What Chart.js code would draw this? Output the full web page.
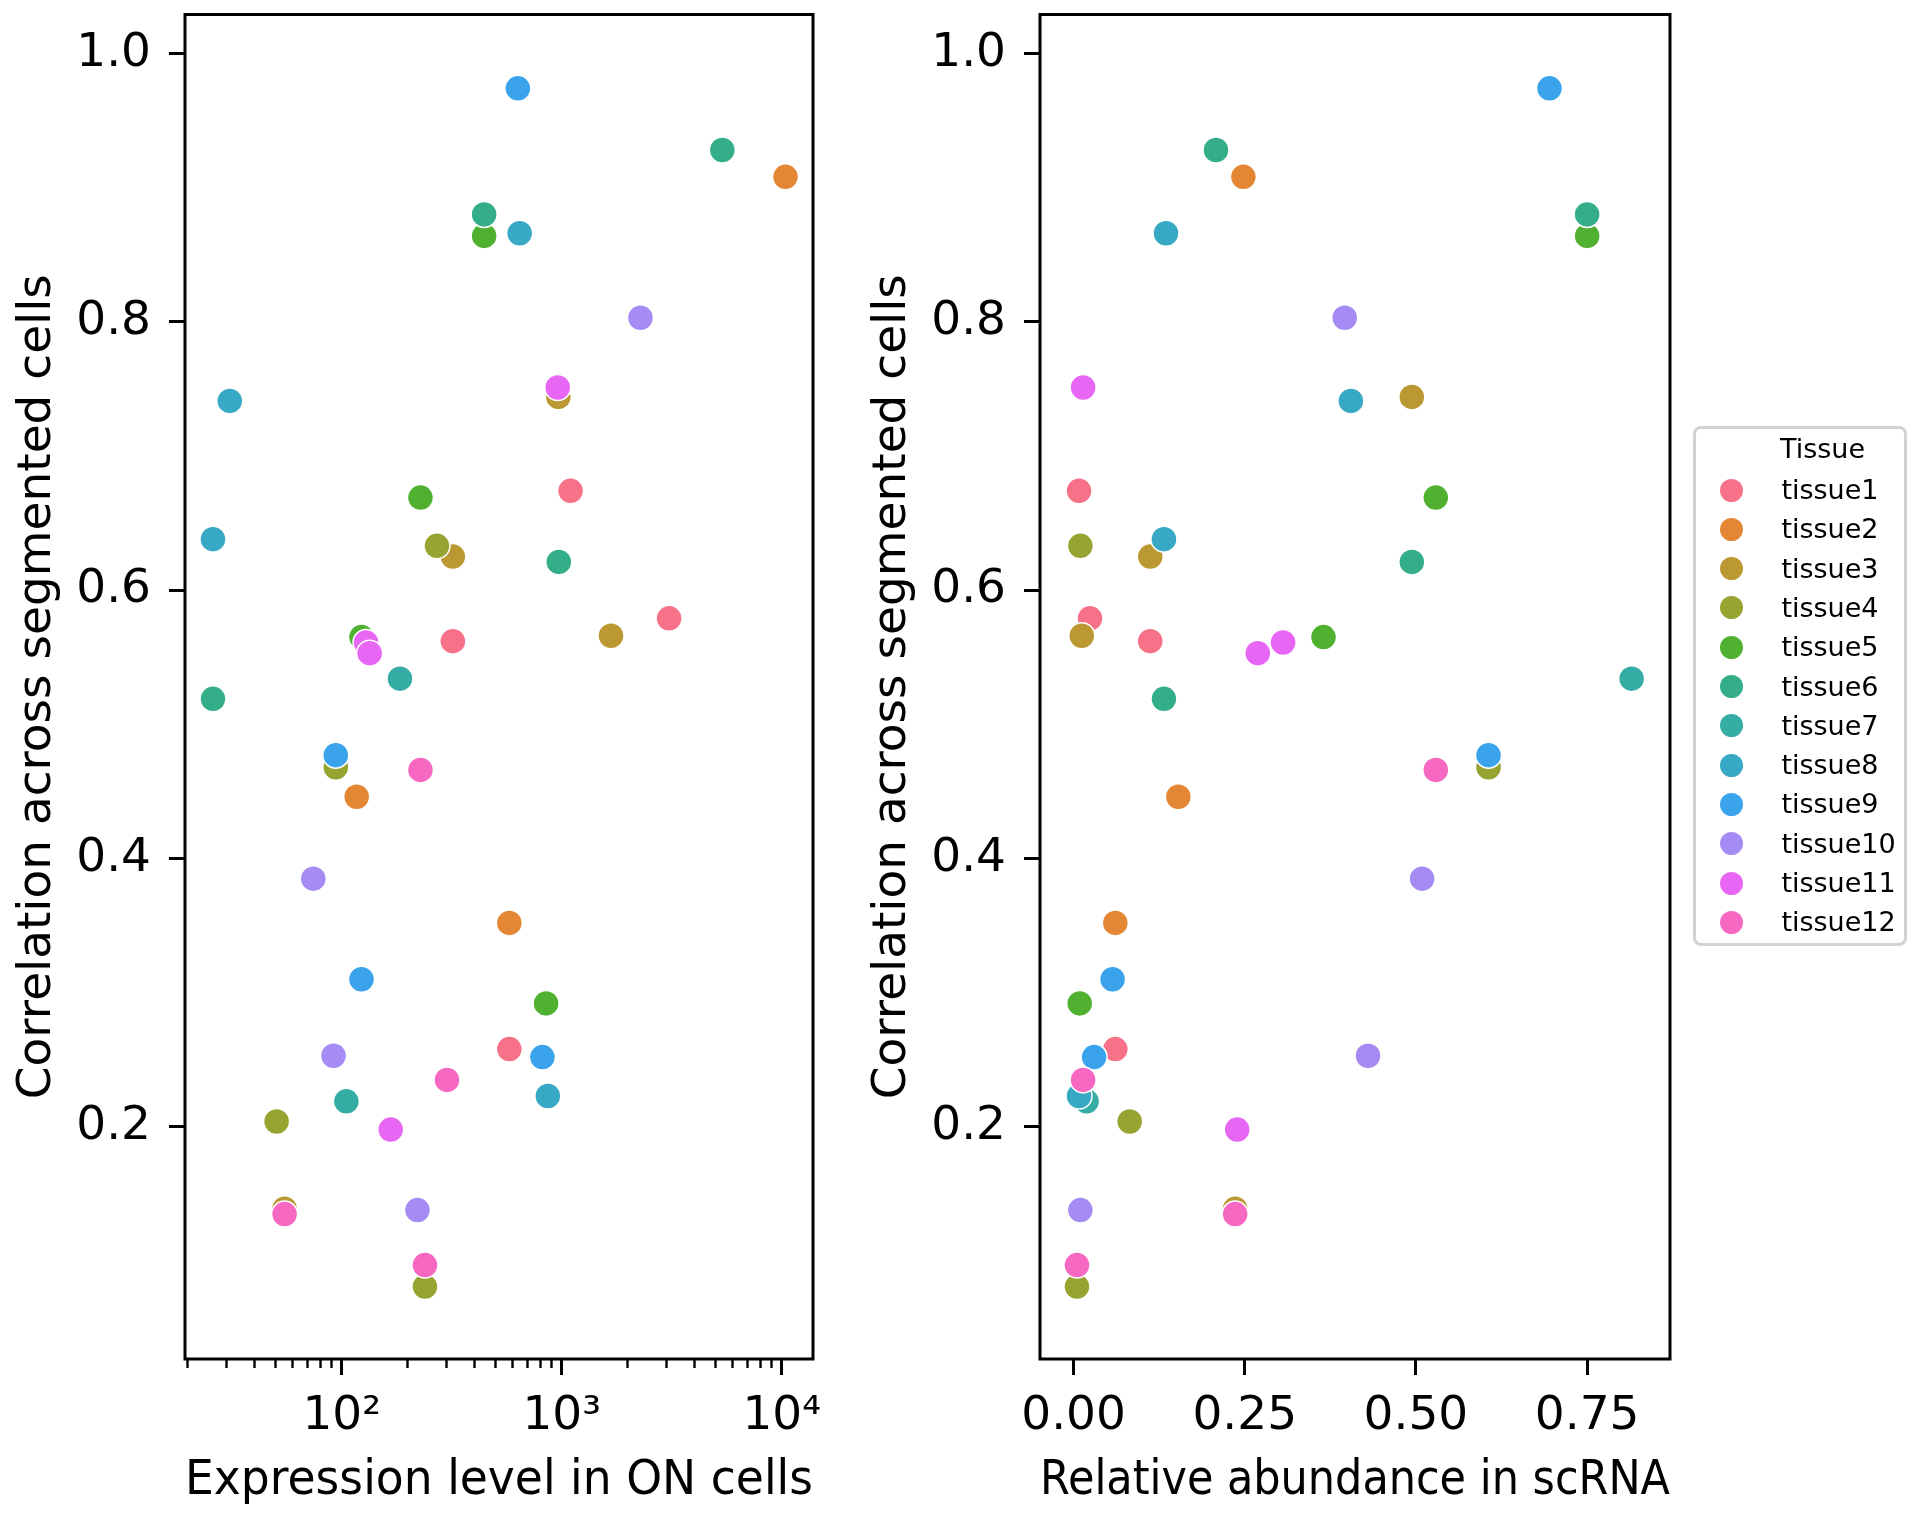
<!DOCTYPE html>
<html>
<head>
<meta charset="utf-8">
<script src="https://cdn.jsdelivr.net/npm/chart.js@4.4.0/dist/chart.umd.min.js"></script>
<style>
  body { margin: 0; background: #fff; width: 1920px; height: 1521px; position: relative; overflow: hidden; font-family: "DejaVu Sans", sans-serif; }
  canvas { position: absolute; top: 0; }
  #left { left: 0; }
  #right { left: 855px; }
  #legend { position: absolute; left: 1693px; top: 426px; width: 208px; height: 514px; border: 3px solid #d2d2d2; border-radius: 8px; background: #fff; }
  #legend div { position: absolute; white-space: nowrap; color: #000; font-size: 27px; line-height: 40px; height: 40px; }
  #legend span.dot { position: absolute; width: 23px; height: 23px; border-radius: 50%; }
</style>
</head>
<body>
<canvas id="left" width="880" height="1521"></canvas>
<canvas id="right" width="880" height="1521"></canvas>
<div id="legend"></div>
<script>
const tissues = ['tissue1', 'tissue2', 'tissue3', 'tissue4', 'tissue5', 'tissue6',
                 'tissue7', 'tissue8', 'tissue9', 'tissue10', 'tissue11', 'tissue12'];
const colors = ['#f77189', '#e48735', '#bb9832', '#97a431', '#50b131', '#34ae88',
                '#36ada4', '#38a9c5', '#3ba3ec', '#a48cf4', '#e866f4', '#f668c2'];

// correlation across segmented cells, one list per tissue
const corr = [
  [0.674, 0.579, 0.562, 0.258],
  [0.908, 0.446, 0.352],
  [0.744, 0.625, 0.566, 0.139],
  [0.633, 0.468, 0.204, 0.081],
  [0.864, 0.669, 0.565, 0.292],
  [0.928, 0.880, 0.621, 0.519],
  [0.534, 0.219],
  [0.866, 0.741, 0.638, 0.223],
  [0.974, 0.477, 0.310, 0.252],
  [0.803, 0.385, 0.253, 0.138],
  [0.751, 0.561, 0.553, 0.198],
  [0.466, 0.235, 0.135, 0.097]
];
// expression level in ON cells (same order as corr)
const expr = [
  [1097, 3076, 320, 578],
  [10400, 117, 578],
  [965, 320, 1675, 55],
  [271, 94, 50.6, 239],
  [444, 228, 123, 849],
  [5370, 444, 970, 26],
  [184, 105],
  [644, 31, 26, 865],
  [632, 94, 123, 817],
  [2280, 74.3, 91.8, 221],
  [959, 129, 134, 167],
  [228, 301, 55, 239]
];
// relative abundance in scRNA (same order as corr)
const abund = [
  [0.008, 0.024, 0.112, 0.061],
  [0.248, 0.153, 0.061],
  [0.494, 0.112, 0.012, 0.236],
  [0.010, 0.606, 0.082, 0.005],
  [0.750, 0.529, 0.365, 0.009],
  [0.208, 0.750, 0.494, 0.132],
  [0.815, 0.019],
  [0.135, 0.405, 0.132, 0.008],
  [0.695, 0.606, 0.057, 0.030],
  [0.396, 0.509, 0.430, 0.010],
  [0.014, 0.306, 0.269, 0.239],
  [0.529, 0.014, 0.236, 0.005]
];

const yTicks = [0.2, 0.4, 0.6, 0.8, 1.0];
const logTicks = [20, 30, 40, 50, 60, 70, 80, 90, 100,
                  200, 300, 400, 500, 600, 700, 800, 900, 1000,
                  2000, 3000, 4000, 5000, 6000, 7000, 8000, 9000, 10000];
const logLabels = { 100: '10²', 1000: '10³', 10000: '10⁴' };
const abundTicks = [0, 0.25, 0.5, 0.75];

const FONT = "'DejaVu Sans'";
Chart.defaults.font.family = FONT;
Chart.defaults.color = '#000';

const frame = {
  id: 'frame',
  afterDatasetsDraw(chart) {
    const a = chart.chartArea;
    const c = chart.ctx;
    c.save();
    c.lineWidth = 3;
    c.strokeStyle = '#000';
    c.strokeRect(a.left, a.top, a.right - a.left, a.bottom - a.top);
    c.restore();
  }
};

function makeDatasets(xs) {
  return tissues.map((name, i) => ({
    label: name,
    data: corr[i].map((c, j) => ({ x: xs[i][j], y: c })),
    backgroundColor: colors[i],
    borderColor: '#fff',
    borderWidth: 1.5,
    pointRadius: 13,
    order: tissues.length - i
  }));
}

function yAxis() {
  return {
    type: 'linear',
    min: 0.027,
    max: 1.029,
    afterBuildTicks: ax => { ax.ticks = yTicks.map(v => ({ value: v })); },
    afterFit: ax => { ax.width = 185; ax.paddingTop = 0; ax.paddingBottom = 0; },
    ticks: { callback: v => v.toFixed(1), font: { size: 47 }, padding: 18 },
    grid: { drawOnChartArea: false, tickLength: 16, tickWidth: 3, tickColor: '#000' },
    border: { display: false },
    title: { display: true, text: 'Correlation across segmented cells', font: { size: 47 }, padding: { top: 10, bottom: 0 } }
  };
}

function makeChart(id, xs, xAxis, padRight) {
  return new Chart(document.getElementById(id), {
    type: 'scatter',
    data: { datasets: makeDatasets(xs) },
    options: {
      responsive: false,
      animation: false,
      devicePixelRatio: 1,
      events: [],
      layout: { padding: { left: 0, top: 12, right: padRight, bottom: 0 } },
      plugins: { legend: { display: false }, tooltip: { enabled: false } },
      scales: { x: xAxis, y: yAxis() }
    },
    plugins: [frame]
  });
}

function fitX(ax) {
  ax.height = 162;
  ax.paddingLeft = 0;
  ax.paddingRight = 0;
}

makeChart('left', expr, {
  type: 'logarithmic',
  min: 19.4,
  max: 13870,
  afterBuildTicks: ax => { ax.ticks = logTicks.map(v => ({ value: v })); },
  afterFit: fitX,
  ticks: { autoSkip: false, maxRotation: 0, minRotation: 0, callback: v => logLabels[v] || '', font: { size: 47 }, padding: 14 },
  grid: {
    drawOnChartArea: false, tickLength: 16, tickColor: '#000',
    tickWidth: ctx => (logLabels[ctx.tick && ctx.tick.value] ? 3 : 2.4),
    tickBorderDash: ctx => (logLabels[ctx.tick && ctx.tick.value] ? [] : [9, 100])
  },
  border: { display: false },
  title: { display: true, text: 'Expression level in ON cells', font: { size: 47.5 }, padding: { top: 0, bottom: 11 } }
}, 67);

makeChart('right', abund, {
  type: 'linear',
  min: -0.049,
  max: 0.871,
  afterBuildTicks: ax => { ax.ticks = abundTicks.map(v => ({ value: v })); },
  afterFit: fitX,
  ticks: { autoSkip: false, maxRotation: 0, minRotation: 0, callback: v => v.toFixed(2), font: { size: 47 }, padding: 14 },
  grid: { drawOnChartArea: false, tickLength: 16, tickWidth: 3, tickColor: '#000' },
  border: { display: false },
  title: { display: true, text: 'Relative abundance in scRNA', font: { size: 47.5 }, padding: { top: 0, bottom: 11 } }
}, 65);

// legend box beside the right panel
const legend = document.getElementById('legend');
const title = document.createElement('div');
title.textContent = 'Tissue';
title.style.left = '84px';
title.style.top = (448.6 - 429 - 20) + 'px';
legend.appendChild(title);
tissues.forEach((name, i) => {
  const row = document.createElement('div');
  const cy = 490 + 39.3 * i - 429;
  row.style.left = '0px';
  row.style.top = (cy - 20) + 'px';
  row.style.width = '208px';
  const dot = document.createElement('span');
  dot.className = 'dot';
  dot.style.background = colors[i];
  dot.style.left = (35.7 - 11.5) + 'px';
  dot.style.top = (20 - 11.5) + 'px';
  const txt = document.createElement('span');
  txt.textContent = name;
  txt.style.position = 'absolute';
  txt.style.left = '85.4px';
  row.appendChild(dot);
  row.appendChild(txt);
  legend.appendChild(row);
});
</script>
</body>
</html>
